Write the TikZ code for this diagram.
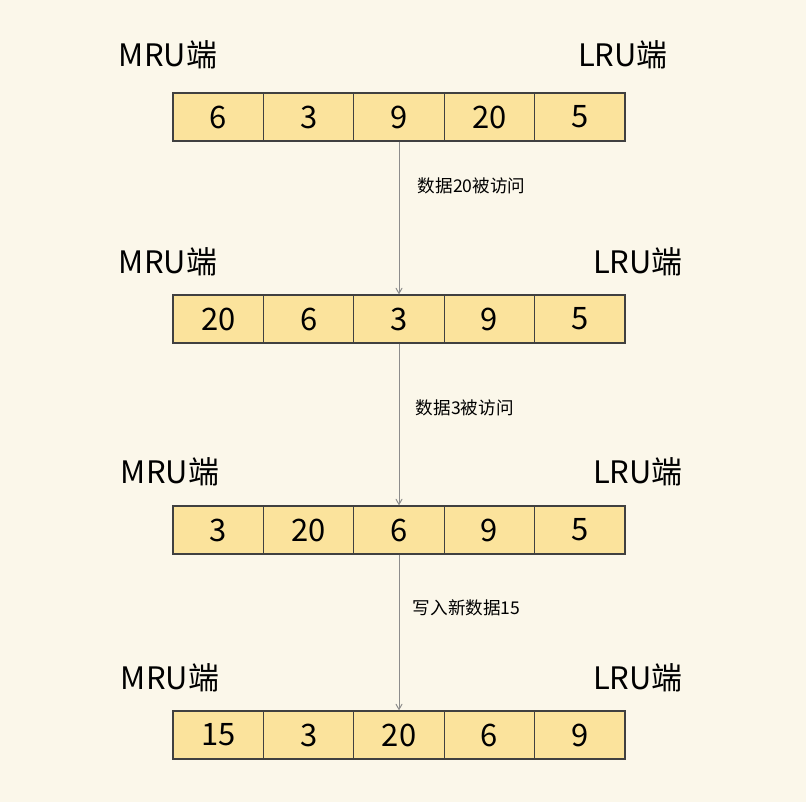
\documentclass[tikz,border=0pt]{standalone}
\usepackage{fontspec}
\setmainfont{Noto Sans CJK SC}
\usetikzlibrary{arrows}
\definecolor{bgcream}{HTML}{FBF7EA}
\definecolor{cellfill}{HTML}{FBE39C}
\begin{document}
\begin{tikzpicture}[x=0.025cm,y=-0.025cm]
		\tikzset{cell/.style = {draw=black!75, fill=cellfill, line width=0.9pt, minimum width=2.26cm, minimum height=1.2cm, inner sep=0pt, font=\fontsize{22}{24}\selectfont}}
		\tikzset{endlabel/.style = {font=\fontsize{22}{24}\selectfont}}
		\tikzset{steplabel/.style = {font=\fontsize{12.5}{14}\selectfont, anchor=west}}
		\tikzset{edge/.style = {draw=black!45, line width=0.7pt, -angle 60}}

		\fill[bgcream] (0,0) rectangle (806,802);

		% rows of cells
		\foreach \r/\y/\vals in {1/117/{6,3,9,20,5}, 2/319/{20,6,3,9,5}, 3/530/{3,20,6,9,5}, 4/735/{15,3,20,6,9}}{
			\foreach \v [count=\c] in \vals {
				\node[cell] (r\r c\c) at ({173+45.2+90.4*(\c-1)},\y) {\v};
			}
		}

		\node[endlabel] (m1) at (168,55) {MRU端};
		\node[endlabel] (l1) at (623,55) {LRU端};
		\node[endlabel] (m2) at (168,262) {MRU端};
		\node[endlabel] (l2) at (638,262) {LRU端};
		\node[endlabel] (m3) at (170,472) {MRU端};
		\node[endlabel] (l3) at (638,472) {LRU端};
		\node[endlabel] (m4) at (170,678) {MRU端};
		\node[endlabel] (l4) at (638,678) {LRU端};

		\draw[edge] (r1c3) to (r2c3);
		\draw[edge] (r2c3) to (r3c3);
		\draw[edge] (r3c3) to (r4c3);

		\node[steplabel] (s1) at (413,186) {数据20被访问};
		\node[steplabel] (s2) at (411,408) {数据3被访问};
		\node[steplabel] (s3) at (408,608) {写入新数据15};
	\end{tikzpicture}
\end{document}
